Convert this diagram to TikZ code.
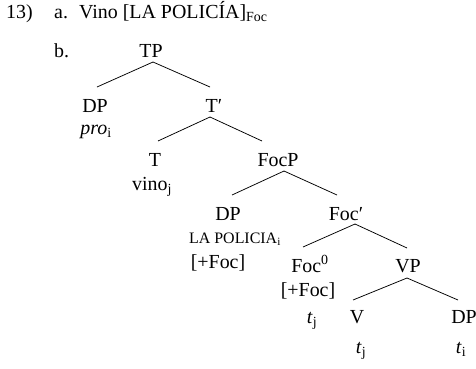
\documentclass[tikz,border=0pt]{standalone}
\usepackage{fontspec}
\setmainfont{Liberation Serif}
\begin{document}
\begin{tikzpicture}[x=1bp,y=-1bp,
  lbl/.style={inner sep=0pt,anchor=base,font=\fontsize{20}{23}\selectfont},
  lblw/.style={inner sep=0pt,anchor=base west,font=\fontsize{20}{23}\selectfont},
  small/.style={inner sep=0pt,anchor=base,font=\fontsize{16}{19}\selectfont},
  edge/.style={line width=0.75bp,black}]
\useasboundingbox (0,0) rectangle (476,368);
% example header
\node[lblw] (num) at (6,18) {13)};
\node[lblw] (a) at (54,18) {a.};
\node[lblw] (sent) at (79,18) {Vino [LA POLICÍA]\textsubscript{Foc}};
\node[lblw] (b) at (54,57) {b.};
% tree nodes
\node[lbl] (TP) at (151,57) {TP};
\node[lbl] (DPa) at (95,112) {DP};
\node[lbl] (pro) at (96,134) {\textit{pro}\textsubscript{i}};
\node[lbl] (Tbar) at (214,112) {T′};
\node[lbl] (T) at (155,166) {T};
\node[lbl] (vino) at (152,190) {vino\textsubscript{j}};
\node[lbl] (FocP) at (278,166) {FocP};
\node[lbl] (DPb) at (228,220) {DP};
\node[small] (lapol) at (235,243) {LA POLICIA\textsubscript{i}};
\node[lbl] (focA) at (218,268) {[+Foc]};
\node[lbl] (Focbar) at (346,220) {Foc′};
\node[lbl] (Foc0) at (310,272) {Foc\textsuperscript{0}};
\node[lbl] (focB) at (308,296) {[+Foc]};
\node[lbl] (tja) at (312,323) {\textit{t}\textsubscript{j}};
\node[lbl] (VP) at (408,272) {VP};
\node[lbl] (V) at (357,323) {V};
\node[lbl] (tjb) at (361,353) {\textit{t}\textsubscript{j}};
\node[lbl] (DPc) at (464,323) {DP};
\node[lbl] (ti) at (461,353) {\textit{t}\textsubscript{i}};
% branches
\draw[edge] ([shift={(2bp,-5bp)}]TP.base) -- ([shift={(2bp,25bp)}]DPa.base);
\draw[edge] ([shift={(2bp,-5bp)}]TP.base) -- ([shift={(-4bp,25bp)}]Tbar.base);
\draw[edge] ([shift={(-4bp,-5bp)}]Tbar.base) -- ([shift={(3bp,25bp)}]T.base);
\draw[edge] ([shift={(-4bp,-5bp)}]Tbar.base) -- ([shift={(-16bp,25bp)}]FocP.base);
\draw[edge] ([shift={(6bp,-5bp)}]FocP.base) -- ([shift={(4bp,25bp)}]DPb.base);
\draw[edge] ([shift={(6bp,-5bp)}]FocP.base) -- ([shift={(-9bp,25bp)}]Focbar.base);
\draw[edge] ([shift={(9bp,-4bp)}]Focbar.base) -- ([shift={(-7bp,25bp)}]Foc0.base);
\draw[edge] ([shift={(9bp,-4bp)}]Focbar.base) -- ([shift={(-1bp,24bp)}]VP.base);
\draw[edge] ([shift={(-1bp,-6bp)}]VP.base) -- ([shift={(-4bp,23bp)}]V.base);
\draw[edge] ([shift={(-1bp,-6bp)}]VP.base) -- ([shift={(-6bp,23bp)}]DPc.base);
\end{tikzpicture}
\end{document}
